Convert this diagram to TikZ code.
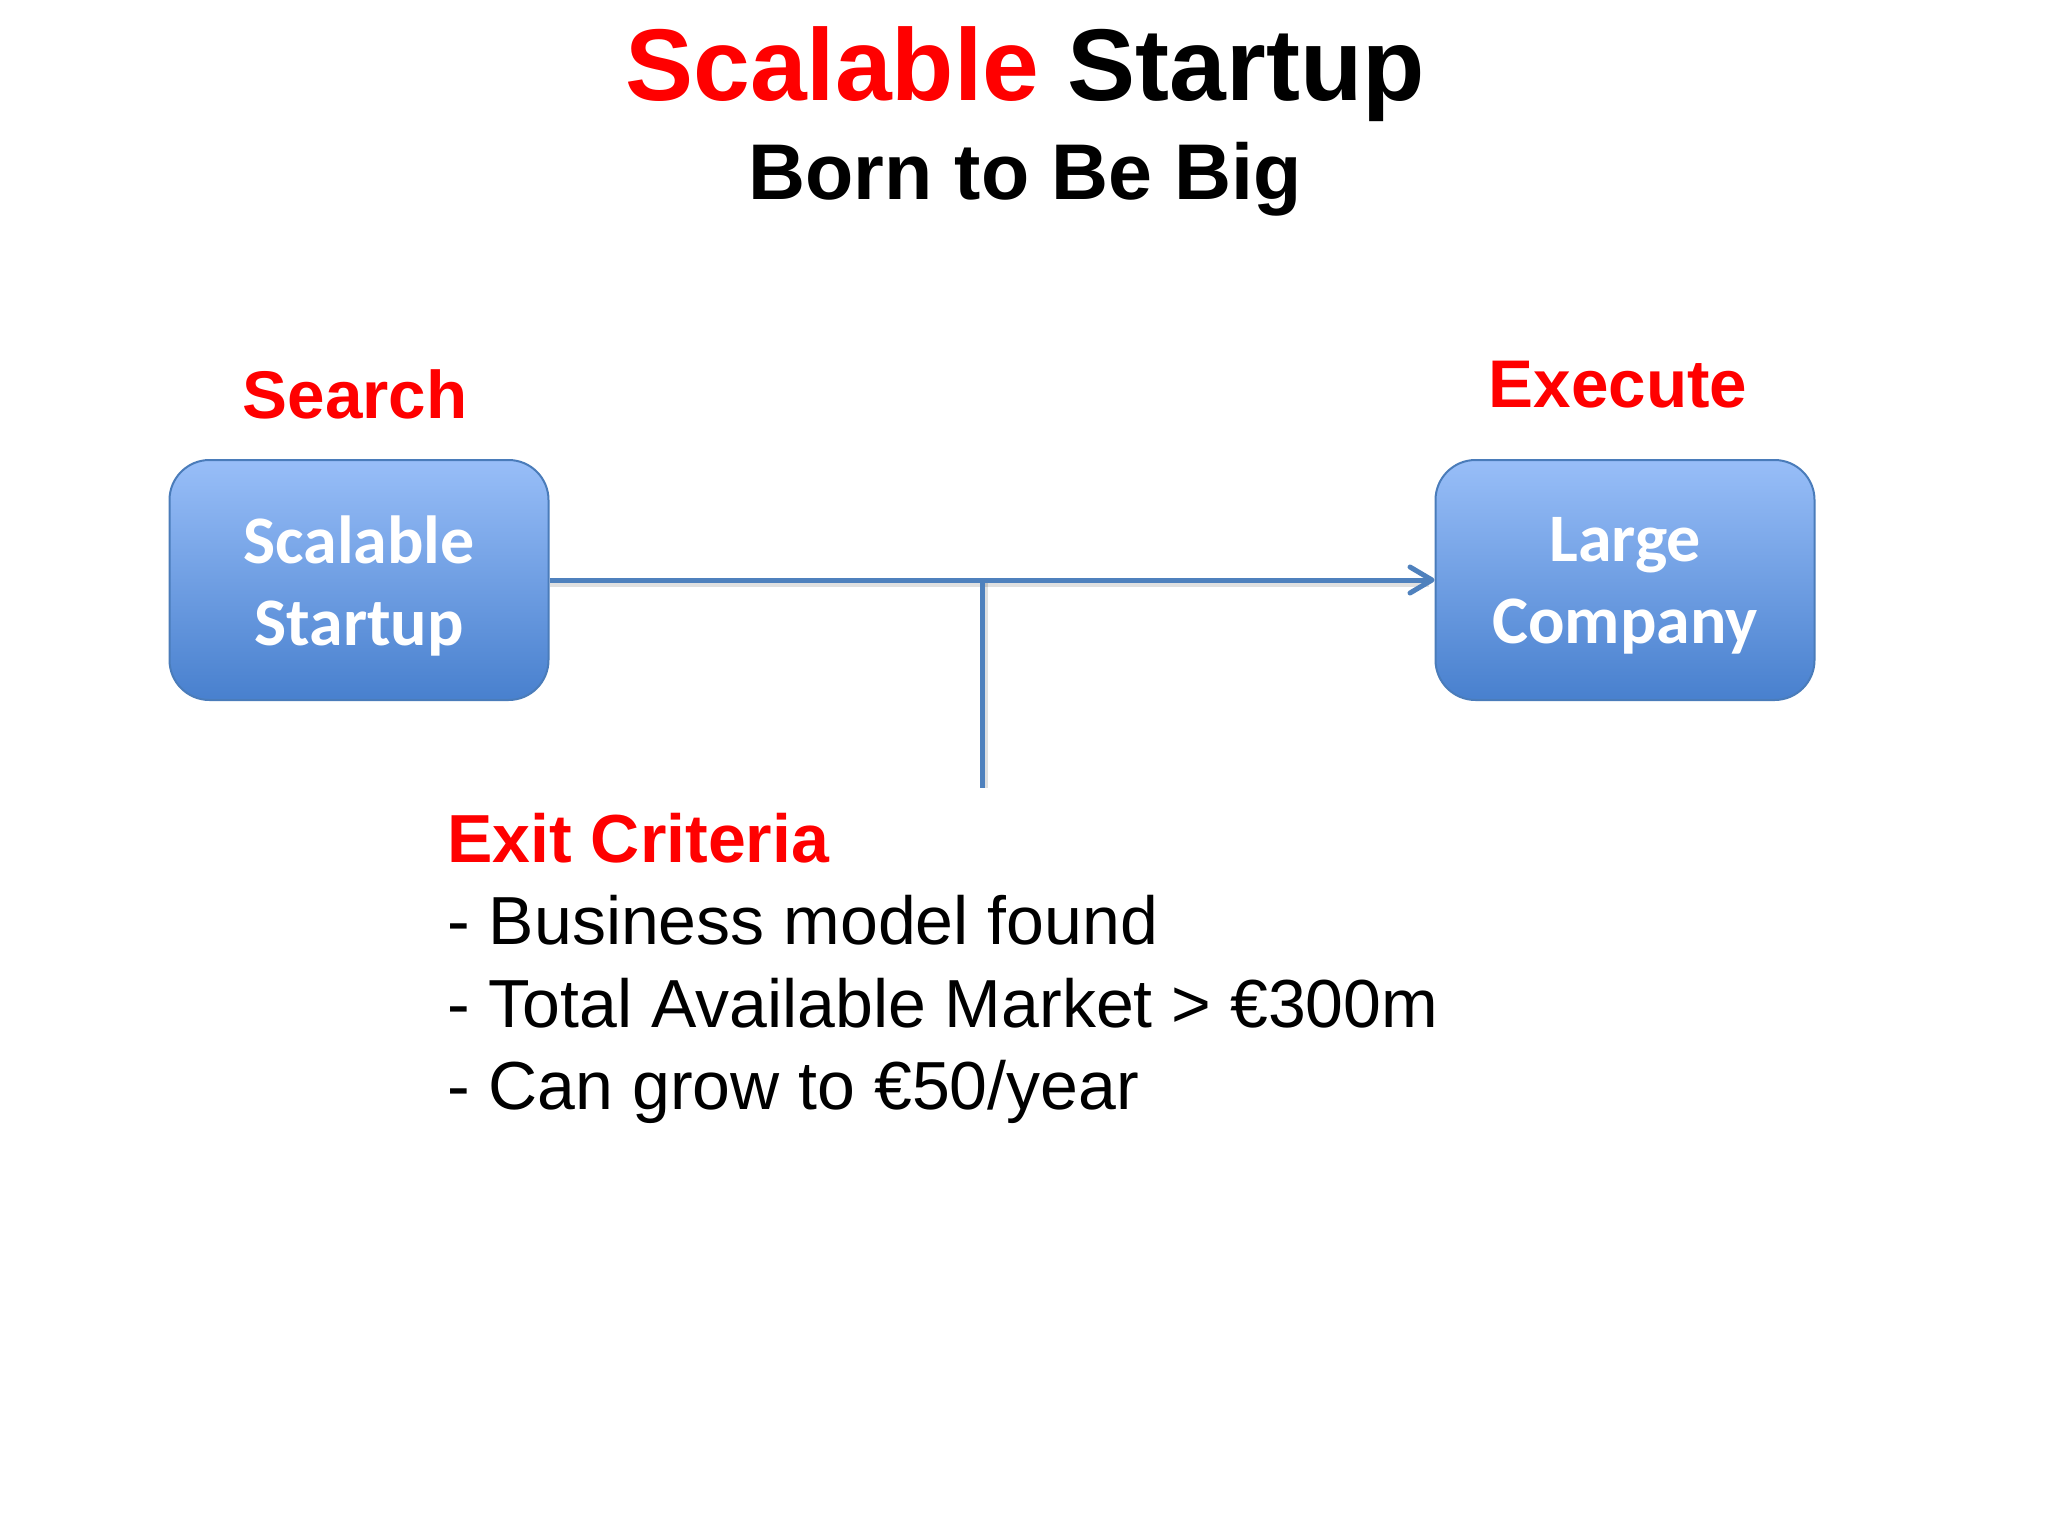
\documentclass[tikz,border=0pt]{standalone}
\usepackage{fontspec}
\setmainfont{Liberation Sans}
\newfontfamily\calibri{Carlito}
\usetikzlibrary{arrows.meta}
\definecolor{tred}{RGB}{255,0,0}
\definecolor{boxtop}{RGB}{152,190,248}
\definecolor{boxbot}{RGB}{72,128,206}
\definecolor{boxline}{RGB}{74,124,186}
\definecolor{conncol}{RGB}{79,129,189}
\tikzset{
  stagebox/.style={draw=boxline, line width=1pt, rounded corners=20pt,
    top color=boxtop, bottom color=boxbot, minimum width=189.5pt, minimum height=120pt,
    inner sep=0pt},
  boxtext/.style={inner sep=0pt, align=center, text=white, yshift=-3pt,
    font=\calibri\bfseries\fontsize{34}{41}\selectfont},
  conn/.style={draw=conncol, line width=2.5pt},
  connshadow/.style={draw=black, opacity=0.12, line width=3pt},
  redlabel/.style={text=tred, font=\bfseries\fontsize{33.7}{40}\selectfont, anchor=base, inner sep=0pt},
  bodytext/.style={font=\fontsize{34}{41}\selectfont, anchor=base west, inner sep=0pt},
}
\begin{document}
\begin{tikzpicture}[x=0.5pt,y=-0.5pt]
\useasboundingbox[fill=white] (0,0) rectangle (2048,1536);
% title
\node[anchor=base, inner sep=0pt, font=\bfseries\fontsize{51}{60}\selectfont] (title) at (1025,100)
  {\textcolor{tred}{Scalable} Startup};
\node[anchor=base, inner sep=0pt, font=\bfseries\fontsize{39.5}{48}\selectfont] (subtitle) at (1025,199)
  {Born to Be Big};
% labels
\node[redlabel] (search) at (355,418) {Search};
\node[redlabel] (execute) at (1618,407) {Execute};
% boxes
\node[stagebox, label={[boxtext]center:Scalable\\Startup}] (ss) at (359,580) {};
\node[stagebox, label={[boxtext]center:Large\\Company}] (lc) at (1625,580) {};
% connectors
\coordinate (j) at (982,581);
\coordinate (e) at (982,788);
\draw[connshadow] ([yshift=-2pt]ss.east) -- ([yshift=-2pt,xshift=-3pt]lc.west);
\draw[connshadow] ([xshift=1.5pt]j) -- ([xshift=1.5pt]e);
\draw[conn, -{Straight Barb[length=11pt,width=13pt,round]}] (ss.east) -- (lc.west);
\draw[conn] (j) -- (e);
% exit criteria
\node[bodytext, text=tred, font=\bfseries\fontsize{34}{41}\selectfont] (exit) at (447,862) {Exit Criteria};
\node[bodytext] (c1) at (447,944) {- Business model found};
\node[bodytext] (c2) at (447,1027) {- Total Available Market > €300m};
\node[bodytext] (c3) at (447,1109) {- Can grow to €50/year};
\end{tikzpicture}
\end{document}
